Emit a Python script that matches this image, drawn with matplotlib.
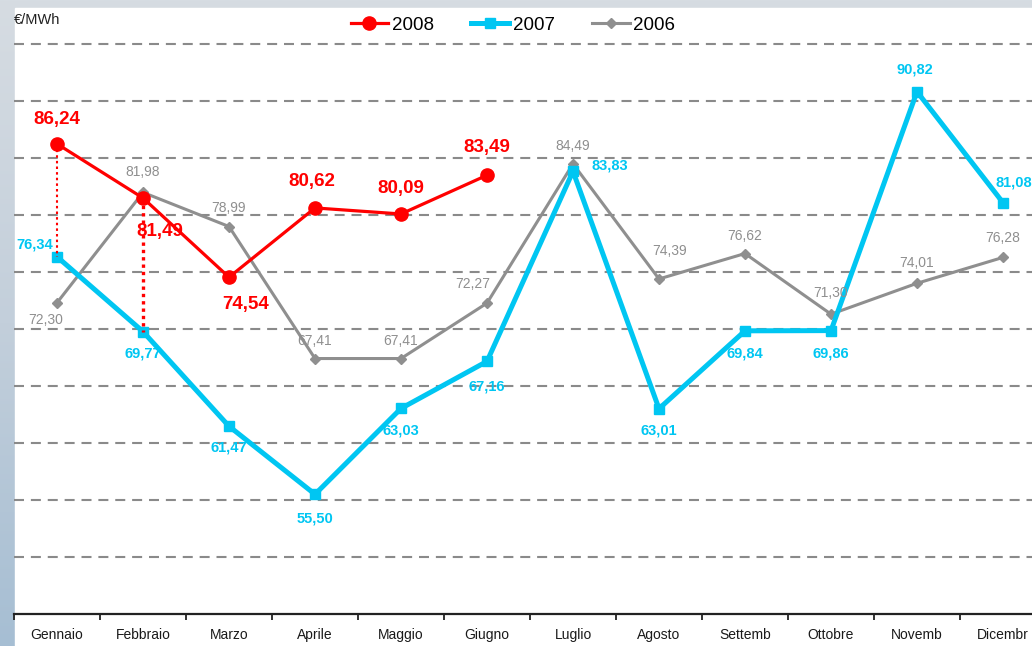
import numpy as np
import matplotlib
matplotlib.use("Agg")
import matplotlib.pyplot as plt
from matplotlib.colors import LinearSegmentedColormap

months = ["Gennaio", "Febbraio", "Marzo", "Aprile", "Maggio", "Giugno",
          "Luglio", "Agosto", "Settemb", "Ottobre", "Novemb", "Dicembr"]
prezzi_2008 = [86.24, 81.49, 74.54, 80.62, 80.09, 83.49]
prezzi_2007 = [76.34, 69.77, 61.47, 55.50, 63.03, 67.16, 83.83, 63.01, 69.84, 69.86, 90.82, 81.08]
prezzi_2006 = [72.30, 81.98, 78.99, 67.41, 67.41, 72.27, 84.49, 74.39, 76.62, 71.30, 74.01, 76.28]

# label offsets in pixels (dx, dy)
off_2008 = [(0, 24), (17, -33), (17, -27), (-3, 26), (0, 25), (0, 28)]
off_2007 = [(-22, 12), (0, -22), (0, -21), (0, -24), (0, -22), (0, -25),
            (37, 6), (0, -22), (0, -23), (0, -23), (-2, 22), (11, 20)]
off_2006 = [(-11, -17), (0, 20), (0, 19), (0, 18), (0, 18), (-14, 19),
            (0, 18), (11, 28), (0, 18), (0, 21), (0, 20), (0, 19)]

RED = "#ff0000"
CYAN = "#00c6f2"
GRAY = "#8f8f8f"

plt.rcParams['font.family'] = ['Liberation Sans', 'DejaVu Sans']

W, H = 1032, 646
fig = plt.figure(figsize=(W / 100, H / 100), dpi=100)

# background frame gradient
bg = fig.add_axes([0, 0, 1, 1])
cmap = LinearSegmentedColormap.from_list("bg", ["#d6dce2", "#c3cfdb", "#a6bed3"])
bg.imshow(np.linspace(0, 1, 256).reshape(-1, 1), aspect="auto", cmap=cmap,
          extent=[0, 1, 0, 1])
bg.add_patch(plt.Rectangle((15 / W, 0), 1, 1 - 8 / H, color="white"))
bg.set_xlim(0, 1)
bg.set_ylim(0, 1)
bg.axis("off")

ax = fig.add_axes([14 / W, 32 / H, 1.0, 570 / H])
ax.patch.set_alpha(0)
x = np.arange(len(months))

ax.set_xlim(-0.5, 11.5)
ax.set_ylim(45, 95)

for yv in range(50, 96, 5):
    ax.axhline(yv, color="#8a8a8a", lw=1.5, dashes=(4.8, 3.3), zorder=1, clip_on=False)

# dotted difference lines
ax.plot([0, 0], [prezzi_2008[0], prezzi_2007[0]], color=RED, lw=1.5, ls=(0, (1.2, 1.5)), zorder=5)
ax.plot([1, 1], [prezzi_2008[1], prezzi_2007[1]], color=RED, lw=2.4, ls=(0, (1, 1.2)), zorder=5)

x08 = x[:len(prezzi_2008)]
ax.plot(x, prezzi_2006, color=GRAY, lw=2.2, marker="D", ms=5.5, zorder=3, label="2006", clip_on=False)
ax.plot(x, prezzi_2007, color=CYAN, lw=3.6, marker="s", ms=7.5, zorder=4, label="2007", clip_on=False)
ax.plot(x08, prezzi_2008, color=RED, lw=2.3, marker="o", ms=9.5, zorder=6, label="2008", clip_on=False)

def lab(v):
    return f"{v:.2f}".replace(".", ",")

for xi, v, (dx, dy) in zip(x, prezzi_2006, off_2006):
    ax.annotate(lab(v), (xi, v), xytext=(dx * 0.72, dy * 0.72), textcoords="offset points",
                ha="center", va="center", fontsize=10, color=GRAY, zorder=7)
for xi, v, (dx, dy) in zip(x, prezzi_2007, off_2007):
    ax.annotate(lab(v), (xi, v), xytext=(dx * 0.72, dy * 0.72), textcoords="offset points",
                ha="center", va="center", fontsize=10.5, fontweight="bold", color=CYAN, zorder=7)
for xi, v, (dx, dy) in zip(x08, prezzi_2008, off_2008):
    ax.annotate(lab(v), (xi, v), xytext=(dx * 0.72, dy * 0.72), textcoords="offset points",
                ha="center", va="center", fontsize=13.5, fontweight="bold", color=RED, zorder=7)

# axis styling
for s in ["left", "right", "top"]:
    ax.spines[s].set_visible(False)
ax.spines["bottom"].set_linewidth(1.6)
ax.spines["bottom"].set_color("#222222")
ax.set_yticks([])
ax.set_xticks(np.arange(-0.5, 12, 1))
ax.set_xticklabels([])
ax.tick_params(axis="x", which="major", length=4, width=1.3, color="#222222", direction="out")
ax.set_xticks(x, minor=True)
ax.set_xticklabels(months, minor=True, fontsize=10, color="#1a1a1a")
ax.tick_params(axis="x", which="minor", length=0, pad=10)

fig.text(14 / W, 1 - 20 / H, "€/MWh", fontsize=10.5, color="#222222", va="center", ha="left")

h, l = ax.get_legend_handles_labels()
order = [2, 1, 0]
fig.legend([h[i] for i in order], [l[i] for i in order], loc="center",
           bbox_to_anchor=(513 / W, 1 - 25 / H), ncol=3, frameon=False,
           fontsize=13.5, handlelength=2.0, columnspacing=2.0, handletextpad=0.2)

fig.savefig("out.png", dpi=100)
